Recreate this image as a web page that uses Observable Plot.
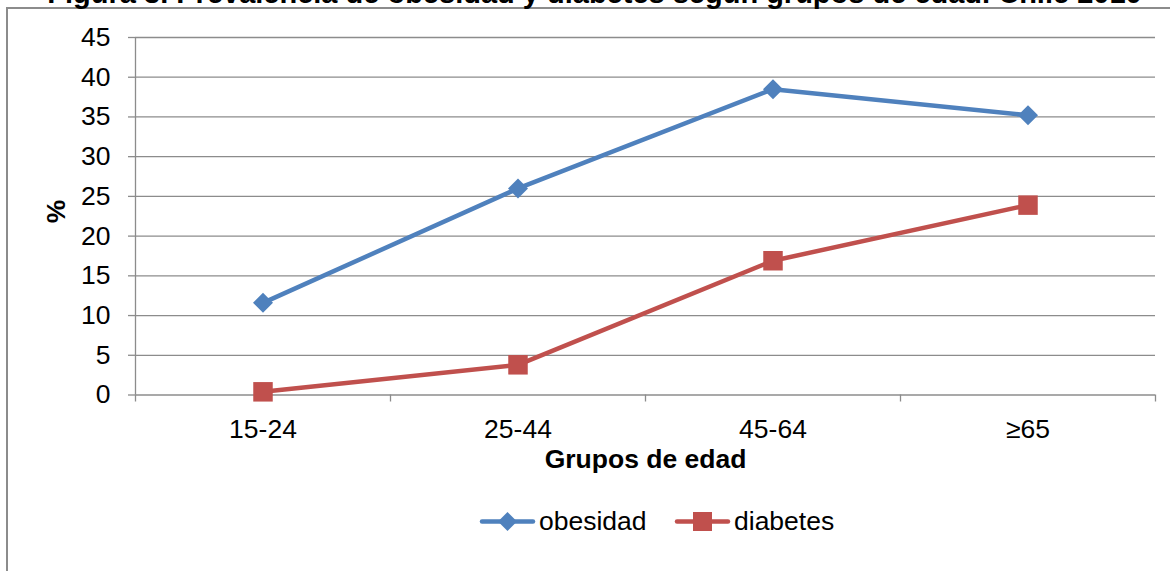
<!DOCTYPE html>
<html>
<head>
<meta charset="utf-8">
<script src="https://cdn.jsdelivr.net/npm/d3@7"></script>
<script src="https://cdn.jsdelivr.net/npm/@observablehq/plot@0.6"></script>
<style>
  html, body { margin: 0; padding: 0; background: #fff; overflow: hidden; }
  #wrap { position: relative; width: 1170px; height: 571px; overflow: hidden; font-family: "Liberation Sans", Arial, sans-serif; }
  #frame { position: absolute; left: 6px; top: 7px; width: 1300px; height: 700px; border-left: 2px solid #8c8c8c; border-top: 2px solid #8c8c8c; box-sizing: border-box; }
  #chart { position: absolute; left: 0; top: 0; }
  #legend { position: absolute; left: 0; top: 0; }
</style>
</head>
<body>
<div id="wrap">
  <div id="frame"></div>
  <div id="chart"></div>
  <svg id="legend" width="1170" height="571"></svg>
</div>
<script>
const title = "Figura 3. Prevalencia de obesidad y diabetes según grupos de edad. Chile 2010";
const categories = ["15-24", "25-44", "45-64", "≥65"];
const obesidad = [11.6, 26.0, 38.5, 35.2];
const diabetes = [0.4, 3.8, 16.9, 23.9];
const yTicks = [0, 5, 10, 15, 20, 25, 30, 35, 40, 45];
const seriesNames = ["obesidad", "diabetes"];
const colors = ["#4F81BD", "#C0504D"];

const gray = "#8c8c8c";
const fs = 26.5;
const catIdx = categories.map((_, i) => i);
const bounds = [-0.5, ...catIdx.map(i => i + 0.5)];
const obData = categories.map((c, i) => ({i, cat: c, v: obesidad[i]}));
const diData = categories.map((c, i) => ({i, cat: c, v: diabetes[i]}));

const plot = Plot.plot({
  width: 1170,
  height: 571,
  marginLeft: 135,
  marginRight: 15,
  marginTop: 37,
  marginBottom: 176.5,
  style: {fontFamily: "'Liberation Sans', Arial, sans-serif", fontSize: fs + "px", color: "#000", background: "transparent", overflow: "visible"},
  x: {type: "linear", domain: [-0.5, categories.length - 0.5]},
  y: {domain: [0, 45]},
  marks: [
    Plot.gridY(yTicks, {stroke: gray, strokeOpacity: 1, strokeWidth: 1.3}),
    Plot.ruleX([-0.5], {y1: 0, y2: 45, stroke: gray, strokeWidth: 1.3}),
    Plot.axisY(yTicks, {tickSize: 7, tickPadding: 18, stroke: gray, strokeWidth: 1.3, fill: "#000", fontSize: fs, label: null}),
    Plot.axisX(bounds, {tickSize: 7, tickFormat: () => "", stroke: gray, strokeWidth: 1.3, label: null}),
    Plot.axisX(catIdx, {tickSize: 0, tickPadding: 24, tickFormat: i => categories[i], fill: "#000", fontSize: fs, label: null}),
    Plot.text(["Grupos de edad"], {frameAnchor: "bottom", dy: 72.5, text: d => d, fontWeight: "bold", fontSize: fs, fill: "#000"}),
    Plot.text(["%"], {frameAnchor: "left", dx: -79, dy: 7, rotate: -90, text: d => d, fontWeight: "bold", fontSize: fs, fill: "#000"}),
    Plot.text([title], {frameAnchor: "top", dx: -51, dy: -34.5, lineAnchor: "bottom", text: d => d, fontWeight: "bold", fontSize: 29, fill: "#000"}),
    Plot.line(obData, {x: "i", y: "v", stroke: colors[0], strokeWidth: 4.5, strokeLinejoin: "round"}),
    Plot.line(diData, {x: "i", y: "v", stroke: colors[1], strokeWidth: 4.5, strokeLinejoin: "round"}),
    Plot.dot(obData, {x: "i", y: "v", symbol: "diamond2", r: 9, fill: colors[0], stroke: "none"}),
    Plot.dot(diData, {x: "i", y: "v", symbol: "square", r: 11, fill: colors[1], stroke: "none"})
  ]
});
document.getElementById("chart").appendChild(plot);

// Legend
const lg = d3.select("#legend");
const items = [
  {name: seriesNames[0], color: colors[0], x0: 480, sym: "diamond"},
  {name: seriesNames[1], color: colors[1], x0: 675, sym: "square"}
];
const cy = 521.5;
items.forEach(it => {
  lg.append("line").attr("x1", it.x0 + 2).attr("x2", it.x0 + 53).attr("y1", cy).attr("y2", cy)
    .attr("stroke", it.color).attr("stroke-width", 4.5).attr("stroke-linecap", "round");
  const cx = it.x0 + 27.5;
  if (it.sym === "diamond") {
    lg.append("path").attr("d", `M${cx},${cy - 9.5}L${cx + 9.5},${cy}L${cx},${cy + 9.5}L${cx - 9.5},${cy}Z`).attr("fill", it.color);
  } else {
    lg.append("rect").attr("x", cx - 9.5).attr("y", cy - 9.5).attr("width", 19).attr("height", 19).attr("fill", it.color);
  }
  lg.append("text").attr("x", it.x0 + 59).attr("y", 529.5).text(it.name)
    .attr("font-family", "'Liberation Sans', Arial, sans-serif").attr("font-size", fs).attr("fill", "#000");
});
</script>
</body>
</html>
